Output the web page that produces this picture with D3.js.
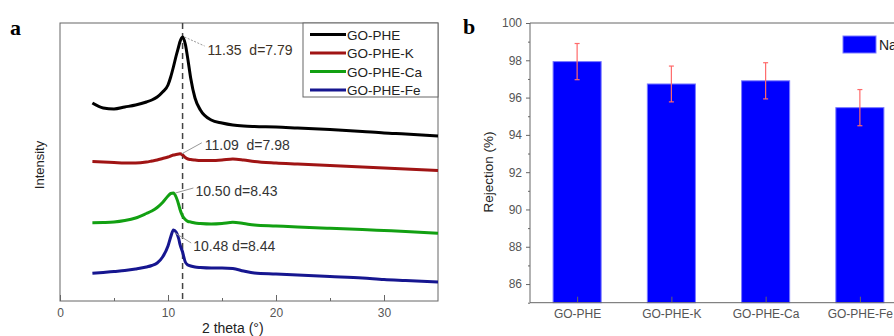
<!DOCTYPE html>
<html>
<head>
<meta charset="utf-8">
<script src="https://cdn.jsdelivr.net/npm/d3@7"></script>
<style>
  body { margin: 0; background: #fff; }
  svg { display: block; font-family: "Liberation Sans", Arial, sans-serif; }
  .panel-label { font-family: "Liberation Serif", "Times New Roman", serif; font-weight: bold; font-size: 22px; }
  .tick text { fill: #555; font-size: 12px; }
  .domain, .tick line { stroke: #666; }
</style>
</head>
<body>
<svg id="chart" width="894" height="336"></svg>
<script>
// ---- panel a: XRD patterns ----
const twoTheta = [3, 4, 5, 6, 7, 8, 8.5, 9, 9.5, 10, 10.25, 10.5, 10.75, 11, 11.1, 11.35, 11.6, 11.85,
  12.1, 12.5, 13, 14, 15, 16, 17, 18, 20, 22, 25, 28, 30, 32, 35];
const seriesNames = ["GO-PHE", "GO-PHE-K", "GO-PHE-Ca", "GO-PHE-Fe"];
const intensityPHE = [198, 193, 192, 194, 196, 199, 201, 204, 209, 216, 224, 234, 245, 255, 259, 264, 257, 241,
  223, 203, 191, 181, 178, 176, 175, 174.5, 174, 173, 171.5, 169.5, 168, 167, 165];
const intensityK = [139.5, 139, 138.5, 138, 138, 139, 140, 141, 142.5, 144, 145, 146, 146.5, 147, 147.2, 146, 143.5, 142,
  141.5, 141, 140.5, 140.5, 141, 142, 141, 139.5, 138, 137, 135.5, 134, 133, 132, 130.5];
const intensityCa = [78.3, 78.5, 79, 80.5, 83, 87.5, 90, 93.5, 98.5, 105, 107.5, 108, 104, 96, 92, 85, 81.5, 79.5,
  79, 78, 77.5, 77, 77.5, 78.7, 77.5, 76, 75, 74, 72.7, 71.5, 70.5, 69.5, 67.7];
const intensityFe = [27.7, 28.5, 29.5, 30.5, 32, 34, 35.5, 38, 44, 55, 64, 71, 69, 62, 57, 49, 39, 36,
  35, 34, 33.5, 33, 33, 32.5, 30, 28, 27, 26, 24.5, 23, 21.5, 20.5, 19];
const peakTheta = [11.35, 11.09, 10.50, 10.48];
const peakLabels = ["11.35  d=7.79", "11.09  d=7.98", "10.50 d=8.43", "10.48 d=8.44"];
const dashTheta = 11.35;
const xTicksA = [0, 10, 20, 30];
const xMinorA = [5, 15, 25];

// ---- panel b: rejection ----
const membranes = ["GO-PHE", "GO-PHE-K", "GO-PHE-Ca", "GO-PHE-Fe"];
const rejection = [97.93, 96.73, 96.9, 95.46];
const rejectionErr = [0.97, 0.96, 0.97, 0.97];
const yTicksB = [86, 88, 90, 92, 94, 96, 98, 100];
const yMinorB = [85, 87, 89, 91, 93, 95, 97, 99];
const legendB = "NaCl";

const svg = d3.select("#chart");
const colors = ["#000000", "#a01414", "#12a012", "#161690"];
const allSeries = [intensityPHE, intensityK, intensityCa, intensityFe];

// ===== panel a =====
const a = { left: 60, right: 438, top: 23, bottom: 301 };
const xA = d3.scaleLinear().domain([0, 35]).range([a.left, a.right]);
const yA = d3.scaleLinear().domain([0, 278]).range([a.bottom, a.top]);
const gA = svg.append("g");

gA.append("rect")
  .attr("x", a.left).attr("y", a.top)
  .attr("width", a.right - a.left).attr("height", a.bottom - a.top)
  .attr("fill", "none").attr("stroke", "#666").attr("stroke-width", 1);

gA.append("g")
  .attr("transform", `translate(0,${a.bottom})`)
  .call(d3.axisBottom(xA).tickValues(xTicksA).tickSize(-6).tickPadding(7).tickSizeOuter(0))
  .call(g => g.select(".domain").remove());
gA.append("g")
  .attr("transform", `translate(0,${a.bottom})`)
  .call(d3.axisBottom(xA).tickValues(xMinorA).tickSize(-3).tickFormat(""))
  .call(g => g.select(".domain").remove());

gA.append("text")
  .attr("x", xA(16)).attr("y", 333)
  .attr("text-anchor", "middle").attr("font-size", 14).attr("fill", "#222")
  .text("2 theta (°)");
gA.append("text")
  .attr("transform", `translate(44,165) rotate(-90)`)
  .attr("text-anchor", "middle").attr("font-size", 13).attr("fill", "#222")
  .text("Intensity");
gA.append("text").attr("class", "panel-label").attr("x", 10).attr("y", 35).text("a");

gA.append("line")
  .attr("x1", xA(dashTheta)).attr("x2", xA(dashTheta))
  .attr("y1", a.top).attr("y2", a.bottom)
  .attr("stroke", "#444").attr("stroke-width", 1.5).attr("stroke-dasharray", "6,4");

const line = d3.line().x((d, i) => xA(twoTheta[i])).y(d => yA(d)).curve(d3.curveMonotoneX);
allSeries.forEach((s, k) => {
  gA.append("path")
    .datum(s)
    .attr("d", line)
    .attr("fill", "none")
    .attr("stroke", colors[k])
    .attr("stroke-width", 3)
    .attr("stroke-linejoin", "round");
});

// peak annotations
const annOffsets = [[22, 9], [22, -11], [20, -5], [18, 10]];
const textOffsets = [[25, 18], [25, -4], [22, 3], [20, 18]];
peakTheta.forEach((t, k) => {
  const s = allSeries[k];
  const px = xA(t);
  const py = yA(d3.max(s)) + (k === 3 ? 3 : 0);
  const [dx, dy] = annOffsets[k];
  gA.append("line")
    .attr("x1", px + 2).attr("y1", py)
    .attr("x2", px + dx).attr("y2", py + dy)
    .attr("stroke", "#999").attr("stroke-width", 1)
    .attr("stroke-dasharray", k === 0 ? "2,1.5" : null);
  gA.append("text")
    .attr("x", px + textOffsets[k][0]).attr("y", py + textOffsets[k][1])
    .attr("font-size", 14).attr("fill", k === 0 ? "#3d3226" : "#333")
    .style("white-space", "pre")
    .text(peakLabels[k]);
});

// legend a
const legA = gA.append("g");
legA.append("rect")
  .attr("x", 303).attr("y", a.top).attr("width", a.right - 303).attr("height", 74)
  .attr("fill", "#fff").attr("stroke", "#666");
seriesNames.forEach((n, k) => {
  const y = 34.5 + k * 18.5;
  legA.append("line").attr("x1", 310).attr("x2", 346).attr("y1", y).attr("y2", y)
    .attr("stroke", colors[k]).attr("stroke-width", 3);
  legA.append("text").attr("x", 347).attr("y", y + 5).attr("font-size", 13.5).attr("fill", "#222").text(n);
});

// ===== panel b =====
const b = { left: 530, right: 907, top: 23, bottom: 302.7 };
const xB = d3.scalePoint().domain(membranes).range([b.left, b.right]).padding(0.5);
const yB = d3.scaleLinear().domain([85, 100]).range([b.bottom, b.top]);
const barW = xB.step() * 0.51;
const gB = svg.append("g");

gB.append("line").attr("x1", b.left).attr("x2", b.right).attr("y1", b.top).attr("y2", b.top)
  .attr("stroke", "#666");

gB.selectAll("rect.bar")
  .data(membranes)
  .join("rect")
  .attr("class", "bar")
  .attr("x", d => xB(d) - barW / 2)
  .attr("y", (d, i) => yB(rejection[i]))
  .attr("width", barW)
  .attr("height", (d, i) => yB(85) - yB(rejection[i]))
  .attr("fill", "#0000ff")
  .attr("stroke", "#7a7aff")
  .attr("stroke-width", 1);

const errG = gB.append("g").attr("stroke", "#ff6a6a").attr("stroke-width", 1.2);
membranes.forEach((m, i) => {
  const cx = xB(m);
  const hi = yB(rejection[i] + rejectionErr[i]);
  const lo = yB(rejection[i] - rejectionErr[i]);
  errG.append("line").attr("x1", cx).attr("x2", cx).attr("y1", hi).attr("y2", lo);
  errG.append("line").attr("x1", cx - 2.5).attr("x2", cx + 2.5).attr("y1", hi).attr("y2", hi);
  errG.append("line").attr("x1", cx - 2.5).attr("x2", cx + 2.5).attr("y1", lo).attr("y2", lo);
});

gB.append("g")
  .attr("transform", `translate(${b.left},0)`)
  .call(d3.axisLeft(yB).tickValues(yTicksB).tickSize(4).tickPadding(4).tickSizeOuter(0))
  .call(g => g.select(".domain").attr("d", `M0,${b.top}V${b.bottom}`));
gB.append("g")
  .attr("transform", `translate(${b.left},0)`)
  .call(d3.axisLeft(yB).tickValues(yMinorB).tickSize(2).tickFormat(""))
  .call(g => g.select(".domain").remove());

gB.append("g")
  .attr("transform", `translate(0,${b.bottom})`)
  .call(d3.axisBottom(xB).tickSize(-6).tickPadding(7).tickSizeOuter(0))
  .call(g => g.select(".domain").attr("d", `M${b.left},0H${b.right}`));

gB.append("text")
  .attr("transform", `translate(493,172) rotate(-90)`)
  .attr("text-anchor", "middle").attr("font-size", 13.5).attr("fill", "#222")
  .text("Rejection (%)");
gB.append("text").attr("class", "panel-label").attr("x", 463).attr("y", 34).text("b");

gB.append("rect").attr("x", 843).attr("y", 36).attr("width", 33).attr("height", 17)
  .attr("fill", "#0000ff").attr("stroke", "#7a7aff");
gB.append("text").attr("x", 879).attr("y", 50).attr("font-size", 14).attr("fill", "#222").text(legendB);
</script>
</body>
</html>
